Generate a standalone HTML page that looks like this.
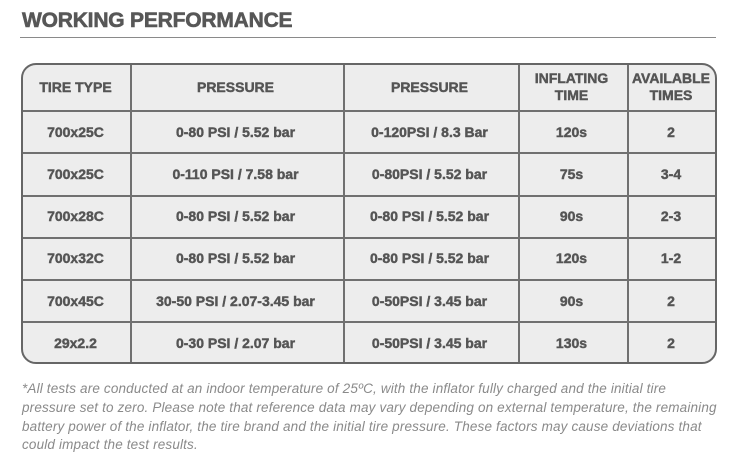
<!DOCTYPE html>
<html><head><meta charset="utf-8">
<style>
html,body{margin:0;padding:0;background:#fff;}
body{width:739px;height:470px;position:relative;overflow:hidden;font-family:"Liberation Sans",sans-serif;}
.title{position:absolute;left:22px;top:8px;font-size:21px;font-weight:700;color:#575757;letter-spacing:-0.2px;line-height:26px;white-space:nowrap;-webkit-text-stroke:0.6px #575757;}
.rule{position:absolute;left:20px;top:37px;width:696px;height:1px;background:#8a8a8a;}
.tbl{position:absolute;left:21px;top:63px;width:696px;height:301px;box-sizing:border-box;border:2px solid #666;border-radius:15px;background:#ededed;overflow:hidden;}
.h{position:absolute;height:2px;background:#707070;left:0;right:0;}
.v{position:absolute;width:2px;background:#707070;top:0;bottom:0;}
.c{position:absolute;display:flex;align-items:center;justify-content:center;text-align:center;color:#555;font-weight:700;white-space:nowrap;-webkit-text-stroke:0.45px #555;}
.hd{font-size:14px;line-height:17px;}
.bd{font-size:14px;}
.note{position:absolute;left:22px;top:380px;font-size:13.5px;letter-spacing:0.16px;font-style:italic;color:#8a8a8a;line-height:18.8px;white-space:nowrap;}
</style></head><body>
<div class="title">WORKING PERFORMANCE</div>
<div class="rule"></div>
<div class="tbl">
  <div class="h" style="top:45px"></div>
  <div class="h" style="top:87.3px"></div>
  <div class="h" style="top:129.7px"></div>
  <div class="h" style="top:171.7px"></div>
  <div class="h" style="top:214px"></div>
  <div class="h" style="top:256.3px"></div>
  <div class="v" style="left:106.5px"></div>
  <div class="v" style="left:319.5px"></div>
  <div class="v" style="left:494.5px"></div>
  <div class="v" style="left:603.5px"></div>
</div>
<!-- header -->
<div class="c hd" style="left:22px;width:107px;top:64px;height:46px;">TIRE TYPE</div>
<div class="c hd" style="left:129px;width:213px;top:64px;height:46px;">PRESSURE</div>
<div class="c hd" style="left:342px;width:175px;top:64px;height:46px;">PRESSURE</div>
<div class="c hd" style="left:517px;width:109px;top:64px;height:46px;">INFLATING<br>TIME</div>
<div class="c hd" style="left:626px;width:90px;top:64px;height:46px;">AVAILABLE<br>TIMES</div>
<!-- rows -->
<div class="c bd" style="left:22px;width:107px;top:111px;height:42px;">700x25C</div>
<div class="c bd" style="left:129px;width:213px;top:111px;height:42px;">0-80 PSI / 5.52 bar</div>
<div class="c bd" style="left:342px;width:175px;top:111px;height:42px;">0-120PSI / 8.3 Bar</div>
<div class="c bd" style="left:517px;width:109px;top:111px;height:42px;">120s</div>
<div class="c bd" style="left:626px;width:90px;top:111px;height:42px;">2</div>

<div class="c bd" style="left:22px;width:107px;top:153px;height:42px;">700x25C</div>
<div class="c bd" style="left:129px;width:213px;top:153px;height:42px;">0-110 PSI / 7.58 bar</div>
<div class="c bd" style="left:342px;width:175px;top:153px;height:42px;">0-80PSI / 5.52 bar</div>
<div class="c bd" style="left:517px;width:109px;top:153px;height:42px;">75s</div>
<div class="c bd" style="left:626px;width:90px;top:153px;height:42px;">3-4</div>

<div class="c bd" style="left:22px;width:107px;top:195px;height:42px;">700x28C</div>
<div class="c bd" style="left:129px;width:213px;top:195px;height:42px;">0-80 PSI / 5.52 bar</div>
<div class="c bd" style="left:342px;width:175px;top:195px;height:42px;">0-80 PSI / 5.52 bar</div>
<div class="c bd" style="left:517px;width:109px;top:195px;height:42px;">90s</div>
<div class="c bd" style="left:626px;width:90px;top:195px;height:42px;">2-3</div>

<div class="c bd" style="left:22px;width:107px;top:237px;height:42px;">700x32C</div>
<div class="c bd" style="left:129px;width:213px;top:237px;height:42px;">0-80 PSI / 5.52 bar</div>
<div class="c bd" style="left:342px;width:175px;top:237px;height:42px;">0-80 PSI / 5.52 bar</div>
<div class="c bd" style="left:517px;width:109px;top:237px;height:42px;">120s</div>
<div class="c bd" style="left:626px;width:90px;top:237px;height:42px;">1-2</div>

<div class="c bd" style="left:22px;width:107px;top:280px;height:42px;">700x45C</div>
<div class="c bd" style="left:129px;width:213px;top:280px;height:42px;">30-50 PSI / 2.07-3.45 bar</div>
<div class="c bd" style="left:342px;width:175px;top:280px;height:42px;">0-50PSI / 3.45 bar</div>
<div class="c bd" style="left:517px;width:109px;top:280px;height:42px;">90s</div>
<div class="c bd" style="left:626px;width:90px;top:280px;height:42px;">2</div>

<div class="c bd" style="left:22px;width:107px;top:322px;height:41px;">29x2.2</div>
<div class="c bd" style="left:129px;width:213px;top:322px;height:41px;">0-30 PSI / 2.07 bar</div>
<div class="c bd" style="left:342px;width:175px;top:322px;height:41px;">0-50PSI / 3.45 bar</div>
<div class="c bd" style="left:517px;width:109px;top:322px;height:41px;">130s</div>
<div class="c bd" style="left:626px;width:90px;top:322px;height:41px;">2</div>

<div class="note">*All tests are conducted at an indoor temperature of 25ºC, with the inflator fully charged and the initial tire<br>pressure set to zero. Please note that reference data may vary depending on external temperature, the remaining<br>battery power of the inflator, the tire brand and the initial tire pressure. These factors may cause deviations that<br>could impact the test results.</div>
</body></html>
